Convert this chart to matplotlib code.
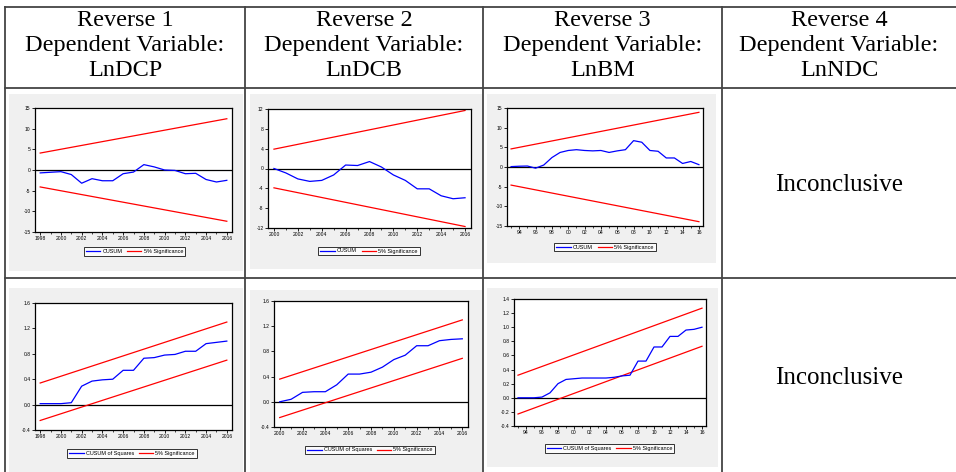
import matplotlib
matplotlib.use("Agg")
import matplotlib.pyplot as plt
from matplotlib.patches import Rectangle

W, H = 956, 472
DPI = 100

# ---------------- data ----------------
headers = [
    ["Reverse 1", "Dependent Variable:", "LnDCP"],
    ["Reverse 2", "Dependent Variable:", "LnDCB"],
    ["Reverse 3", "Dependent Variable:", "LnBM"],
    ["Reverse 4", "Dependent Variable:", "LnNDC"],
]
inconclusive_text = "Inconclusive"

# Row 1: CUSUM
years_r1p1 = list(range(1998, 2017))
cusum_r1p1 = [-0.7, -0.55, -0.4, -1.1, -3.2, -2.1, -2.6, -2.6, -0.9, -0.5,
              1.3, 0.75, 0.0, -0.1, -0.9, -0.8, -2.3, -2.9, -2.5]
bnd_years_r1p1 = [1998, 2016]
upper_r1p1 = [4.1, 12.4]
lower_r1p1 = [-4.1, -12.4]

years_r1p2 = list(range(2000, 2017))
cusum_r1p2 = [0.0, -0.9, -2.1, -2.6, -2.4, -1.3, 0.7, 0.6, 1.4, 0.3, -1.3,
              -2.4, -4.1, -4.1, -5.5, -6.1, -5.9]
bnd_years_r1p2 = [2000, 2016]
upper_r1p2 = [3.9, 11.7]
lower_r1p2 = [-3.9, -11.7]

years_r1p3 = list(range(1993, 2017))
cusum_r1p3 = [0.1, 0.2, 0.25, -0.3, 0.5, 2.4, 3.7, 4.2, 4.4, 4.2, 4.1, 4.2,
              3.7, 4.1, 4.4, 6.7, 6.3, 4.2, 4.0, 2.3, 2.3, 0.9, 1.4, 0.6]
bnd_years_r1p3 = [1993, 2016]
upper_r1p3 = [4.6, 13.9]
lower_r1p3 = [-4.6, -13.9]

# Row 2: CUSUM of squares
years_r2p1 = list(range(1998, 2017))
cusq_r2p1 = [0.015, 0.015, 0.015, 0.03, 0.29, 0.37, 0.39, 0.40, 0.54, 0.54,
             0.73, 0.74, 0.78, 0.79, 0.84, 0.84, 0.96, 0.98, 1.0]
bnd_years_r2p1 = [1998, 2016]
upper_r2p1 = [0.34, 1.30]
lower_r2p1 = [-0.25, 0.70]

years_r2p2 = list(range(2000, 2017))
cusq_r2p2 = [0.0, 0.04, 0.15, 0.16, 0.16, 0.27, 0.44, 0.44, 0.47, 0.55, 0.67,
             0.74, 0.89, 0.89, 0.97, 0.99, 1.0]
bnd_years_r2p2 = [2000, 2016]
upper_r2p2 = [0.36, 1.30]
lower_r2p2 = [-0.25, 0.69]

years_r2p3 = list(range(1993, 2017))
cusq_r2p3 = [0.0, 0.0, 0.0, 0.01, 0.07, 0.20, 0.26, 0.27, 0.28, 0.28, 0.28,
             0.28, 0.29, 0.31, 0.32, 0.52, 0.52, 0.72, 0.72, 0.87, 0.87, 0.96,
             0.97, 1.0]
bnd_years_r2p3 = [1993, 2016]
upper_r2p3 = [0.32, 1.27]
lower_r2p3 = [-0.23, 0.73]

# tick labels
xt_long = list(range(1998, 2017, 2))
xt_long_lbl = [str(y) for y in xt_long]
xt_long2 = list(range(2000, 2017, 2))
xt_long2_lbl = [str(y) for y in xt_long2]
xt_short = list(range(1994, 2017, 2))
xt_short_lbl = ["94", "96", "98", "00", "02", "04", "06", "08", "10", "12", "14", "16"]

yt_15 = [-15, -10, -5, 0, 5, 10, 15]
yt_15_lbl = ["-15", "-10", "-5", "0", "5", "10", "15"]
yt_12 = [-12, -8, -4, 0, 4, 8, 12]
yt_12_lbl = ["-12", "-8", "-4", "0", "4", "8", "12"]
yt_16 = [-0.4, 0.0, 0.4, 0.8, 1.2, 1.6]
yt_16_lbl = ["-0.4", "0.0", "0.4", "0.8", "1.2", "1.6"]
yt_14 = [-0.4, -0.2, 0.0, 0.2, 0.4, 0.6, 0.8, 1.0, 1.2, 1.4]
yt_14_lbl = ["-0.4", "-0.2", "0.0", "0.2", "0.4", "0.6", "0.8", "1.0", "1.2", "1.4"]

# ---------------- figure ----------------
fig = plt.figure(figsize=(W / DPI, H / DPI), dpi=DPI)
fig.patch.set_facecolor("white")

bg = fig.add_axes([0, 0, 1, 1])
bg.set_xlim(0, W)
bg.set_ylim(H, 0)
bg.axis("off")

def rect_px(x0, y0, x1, y1):
    return [x0 / W, 1 - y1 / H, (x1 - x0) / W, (y1 - y0) / H]

# gray panel backgrounds
panel_bg = [
    (9, 94, 243, 271), (250, 94, 482, 269), (487, 94, 716, 263),
    (9, 288, 243, 472), (250, 290, 482, 472), (487, 288, 718, 467),
]
for (x0, y0, x1, y1) in panel_bg:
    bg.add_patch(Rectangle((x0, y0), x1 - x0, y1 - y0, facecolor="#f0f0f0",
                           edgecolor="none", zorder=0))

# table grid
grid_col = "#444444"
lw_grid = 1.3
bg.plot([5, W], [7, 7], color=grid_col, lw=lw_grid)
bg.plot([5, W], [88, 88], color=grid_col, lw=lw_grid)
bg.plot([5, W], [278, 278], color=grid_col, lw=lw_grid)
for xc in [5, 245, 483, 722]:
    bg.plot([xc, xc], [7, H], color=grid_col, lw=lw_grid)

# header text
col_centers = [125, 364, 602.5, 839]
line_ys = [21, 46, 70]
for cx, lines in zip(col_centers, headers):
    for ly, txt in zip(line_ys, lines):
        bg.text(cx, ly, txt, ha="center", va="center", fontsize=17.5,
                family="Liberation Serif", color="black")

bg.text(839, 185, inconclusive_text, ha="center", va="center", fontsize=18,
        family="Liberation Serif")
bg.text(839, 378, inconclusive_text, ha="center", va="center", fontsize=18,
        family="Liberation Serif")

TICK_FS = 3.6
LEG_FS = 4.0

def make_panel(ax_px, leg_px, years, vals, byears, up, lo, xlim, ylim,
               xticks, xlabels, yticks, ylabels, label):
    ax = fig.add_axes(rect_px(*ax_px))
    ax.set_facecolor("white")
    ax.axhline(0, color="black", lw=0.9, zorder=1)
    l1, = ax.plot(years, vals, color="#0000ff", lw=0.9, zorder=3, label=label)
    l2, = ax.plot(byears, up, color="#ff0000", lw=0.9, zorder=2,
                  label="5% Significance")
    ax.plot(byears, lo, color="#ff0000", lw=0.9, zorder=2)
    ax.set_xlim(*xlim)
    ax.set_ylim(*ylim)
    ax.set_xticks(xticks)
    ax.set_xticklabels(xlabels)
    ax.set_xticks(list(range(int(xlim[0] + 0.5), int(xlim[1]) + 1)), minor=True)
    ax.set_yticks(yticks)
    ax.set_yticklabels(ylabels)
    ax.tick_params(axis="both", which="major", labelsize=TICK_FS, length=2.2,
                   width=0.6, pad=1, direction="out")
    ax.tick_params(axis="x", which="minor", length=1.5, width=0.5,
                   direction="out")
    for lab in ax.get_xticklabels() + ax.get_yticklabels():
        lab.set_family("Liberation Sans")
    for sp in ax.spines.values():
        sp.set_linewidth(0.9)
        sp.set_color("black")
    lx0, ly0, lx1, ly1 = leg_px
    leg = ax.legend(handles=[l1, l2], loc="center", ncol=2,
                    bbox_to_anchor=((lx0 + lx1) / 2 / W, 1 - (ly0 + ly1) / 2 / H),
                    bbox_transform=fig.transFigure, fontsize=LEG_FS,
                    frameon=True, fancybox=False, edgecolor="black",
                    handlelength=2.6, handletextpad=0.4, columnspacing=0.8,
                    borderpad=0.35, borderaxespad=0)
    leg.get_frame().set_linewidth(0.7)
    for t in leg.get_texts():
        t.set_family("Liberation Sans")
    return ax

make_panel((35, 108, 232, 232), (86, 247, 183, 256), years_r1p1, cusum_r1p1,
           bnd_years_r1p1, upper_r1p1, lower_r1p1, (1997.5, 2016.5), (-15, 15),
           xt_long, xt_long_lbl, yt_15, yt_15_lbl, "CUSUM")
make_panel((268, 109, 471, 228), (320, 246, 418, 256), years_r1p2, cusum_r1p2,
           bnd_years_r1p2, upper_r1p2, lower_r1p2, (1999.5, 2016.5), (-12, 12),
           xt_long2, xt_long2_lbl, yt_12, yt_12_lbl, "CUSUM")
make_panel((507, 108, 703, 226), (558, 242, 652, 252), years_r1p3, cusum_r1p3,
           bnd_years_r1p3, upper_r1p3, lower_r1p3, (1992.5, 2016.5), (-15, 15),
           xt_short, xt_short_lbl, yt_15, yt_15_lbl, "CUSUM")

make_panel((35, 303, 232, 430), (71, 448, 193, 459), years_r2p1, cusq_r2p1,
           bnd_years_r2p1, upper_r2p1, lower_r2p1, (1997.5, 2016.5), (-0.4, 1.6),
           xt_long, xt_long_lbl, yt_16, yt_16_lbl, "CUSUM of Squares")
make_panel((274, 301, 468, 427), (310, 445, 430, 455), years_r2p2, cusq_r2p2,
           bnd_years_r2p2, upper_r2p2, lower_r2p2, (1999.5, 2016.5), (-0.4, 1.6),
           xt_long2, xt_long2_lbl, yt_16, yt_16_lbl, "CUSUM of Squares")
make_panel((514, 299, 706, 426), (549, 444, 670, 453), years_r2p3, cusq_r2p3,
           bnd_years_r2p3, upper_r2p3, lower_r2p3, (1992.5, 2016.5), (-0.4, 1.4),
           xt_short, xt_short_lbl, yt_14, yt_14_lbl, "CUSUM of Squares")

fig.savefig("out.png", dpi=DPI, facecolor="white")
